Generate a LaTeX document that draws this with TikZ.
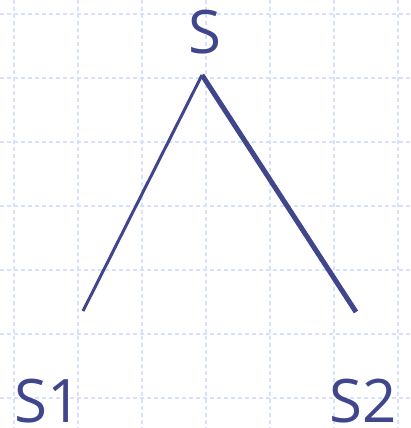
\documentclass[tikz,border=0pt]{standalone}
\usepackage{fontspec}
\setmainfont{Open Sans}
\definecolor{ink}{RGB}{64,70,140}
\definecolor{gridc}{RGB}{216,224,252}
\begin{document}
\begin{tikzpicture}[x=1pt,y=-1pt,
  lbl/.style={text=ink,font=\fontsize{60}{60}\selectfont,inner sep=0pt,anchor=base},
  edge/.style={draw=ink,line cap=butt}]
\useasboundingbox (0,0) rectangle (411,428);
\foreach \k in {0,...,6}{
  \draw[gridc,line width=1.1pt,dash pattern=on 4pt off 3pt] (14+64*\k,0) -- (14+64*\k,428);
  \draw[gridc,line width=1.1pt,dash pattern=on 4pt off 3pt] (0,14+64*\k) -- (411,14+64*\k);
}
\node[lbl] (s) at (205,54) {S};
\node[lbl] (s1) at (48,422) {S1};
\node[lbl] (s2) at (363,422) {S2};
\coordinate (apex) at (202,75);
\coordinate (lend) at (83,311);
\coordinate (rend) at (356,312);
\draw[edge,line width=3pt] (apex) -- (lend);
\draw[edge,line width=5pt] (apex) -- (rend);
\end{tikzpicture}
\end{document}
